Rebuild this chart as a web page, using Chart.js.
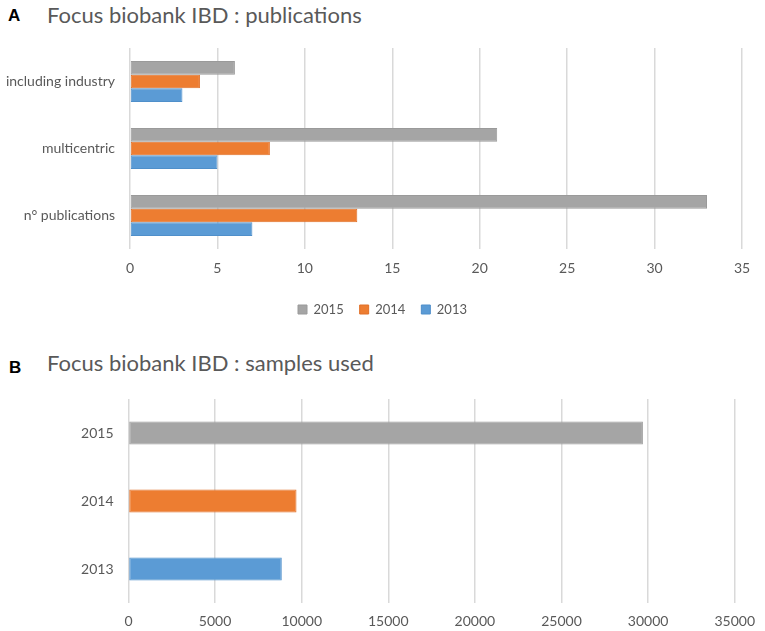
<!DOCTYPE html>
<html>
<head>
<meta charset="utf-8">
<script src="https://cdn.jsdelivr.net/npm/chart.js@4"></script>
<style>
  html, body { margin: 0; padding: 0; background: #fff; }
  body { width: 765px; height: 631px; position: relative; overflow: hidden; }
  .panel { position: absolute; font-family: "Liberation Sans", Arial, sans-serif; font-weight: bold; font-size: 17px; color: #000; }
  .title { position: absolute; font-family: Lato, "Open Sans", sans-serif; font-size: 22px; color: #595959; white-space: nowrap; }
  .box { position: absolute; left: 0; width: 765px; }
</style>
</head>
<body>
<div class="panel" style="left:8px; top:6px;">A</div>
<div class="title" style="left:47px; top:1px;">Focus biobank IBD : publications</div>
<div class="box" style="top:0; height:330px;"><canvas id="chartA"></canvas></div>

<div class="panel" style="left:9px; top:358px;">B</div>
<div class="title" style="left:47px; top:349px;">Focus biobank IBD : samples used</div>
<div class="box" style="top:330px; height:301px;"><canvas id="chartB"></canvas></div>

<script>
// panel A: publications
const pubCategories = ["including industry", "multicentric", "n° publications"];
const pub2015 = [6, 21, 33];
const pub2014 = [4, 8, 13];
const pub2013 = [3, 5, 7];
const pubTicks = [0, 5, 10, 15, 20, 25, 30, 35];

// panel B: samples used
const sampleYears = ["2015", "2014", "2013"];
const sampleValues = [29700, 9700, 8850];
const sampleTicks = [0, 5000, 10000, 15000, 20000, 25000, 30000, 35000];

const GRAY = "#a5a5a5";
const ORANGE = "#ed7d31";
const BLUE = "#5b9bd5";
const TEXT = "#595959";
const GRID = "#d9d9d9";
const FONT = "Lato, 'Open Sans', sans-serif";

Chart.defaults.font.family = FONT;
Chart.defaults.color = TEXT;

function bar(label, data, color, edge) {
    return {
        label,
        data,
        backgroundColor: color,
        borderColor: edge,
        borderWidth: 1,
        borderSkipped: false,
        categoryPercentage: 0.61,
        barPercentage: 1.0,
    };
}

// empty axis on the right, only to leave room after the last gridline
const spacer = (w) => ({
    type: "linear",
    position: "right",
    display: true,
    grid: {display: false},
    border: {display: false},
    ticks: {display: false},
    afterFit: (s) => { s.width = w; },
});

new Chart(document.getElementById("chartA"), {
    type: "bar",
    data: {
        labels: pubCategories,
        datasets: [
            bar("2015", pub2015, GRAY, "#9a9a9a"),
            bar("2014", pub2014, ORANGE, "#e07028"),
            bar("2013", pub2013, BLUE, "#4f8fca"),
        ],
    },
    options: {
        indexAxis: "y",
        responsive: true,
        maintainAspectRatio: false,
        animation: false,
        layout: {
            padding: {left: 0, right: 0, top: 48, bottom: 4},
        },
        plugins: {
            legend: {
                position: "bottom",
                labels: {
                    boxWidth: 9,
                    boxHeight: 9,
                    padding: 16,
                    font: {size: 13},
                    color: TEXT,
                },
            },
            tooltip: {enabled: false},
        },
        scales: {
            x: {
                min: 0,
                max: 35,
                afterBuildTicks: (s) => { s.ticks = pubTicks.map(v => ({value: v})); },
                grid: {color: GRID, lineWidth: 1.5, drawTicks: false},
                border: {display: false},
                ticks: {padding: 11, font: {size: 14}, color: TEXT},
                afterFit: (s) => { s.height = 38; },
            },
            y: {
                grid: {display: false},
                border: {display: false},
                ticks: {padding: 7, font: {size: 14}, color: TEXT},
                afterFit: (s) => { s.width = 130; },
            },
            yRight: spacer(23),
        },
    },
});

new Chart(document.getElementById("chartB"), {
    type: "bar",
    data: {
        labels: sampleYears,
        datasets: [{
            label: "samples used",
            data: sampleValues,
            backgroundColor: [GRAY, ORANGE, BLUE],
            borderColor: ["#9a9a9a", "#e07028", "#4f8fca"],
            borderWidth: 1,
            borderSkipped: false,
            categoryPercentage: 0.34,
            barPercentage: 1.0,
        }],
    },
    options: {
        indexAxis: "y",
        responsive: true,
        maintainAspectRatio: false,
        animation: false,
        layout: {
            padding: {left: 0, right: 0, top: 69, bottom: 0},
        },
        plugins: {
            legend: {display: false},
            tooltip: {enabled: false},
        },
        scales: {
            x: {
                min: 0,
                max: 35000,
                afterBuildTicks: (s) => { s.ticks = sampleTicks.map(v => ({value: v})); },
                grid: {color: GRID, lineWidth: 1.5, drawTicks: false},
                border: {display: false},
                ticks: {
                    padding: 10,
                    font: {size: 14},
                    color: TEXT,
                    callback: (v) => String(v),
                },
                afterFit: (s) => { s.height = 28; },
            },
            y: {
                grid: {display: false},
                border: {display: false},
                ticks: {padding: 7, font: {size: 14}, color: TEXT},
                afterFit: (s) => { s.width = 128.5; },
            },
            yRight: spacer(25),
        },
    },
});
</script>
</body>
</html>
